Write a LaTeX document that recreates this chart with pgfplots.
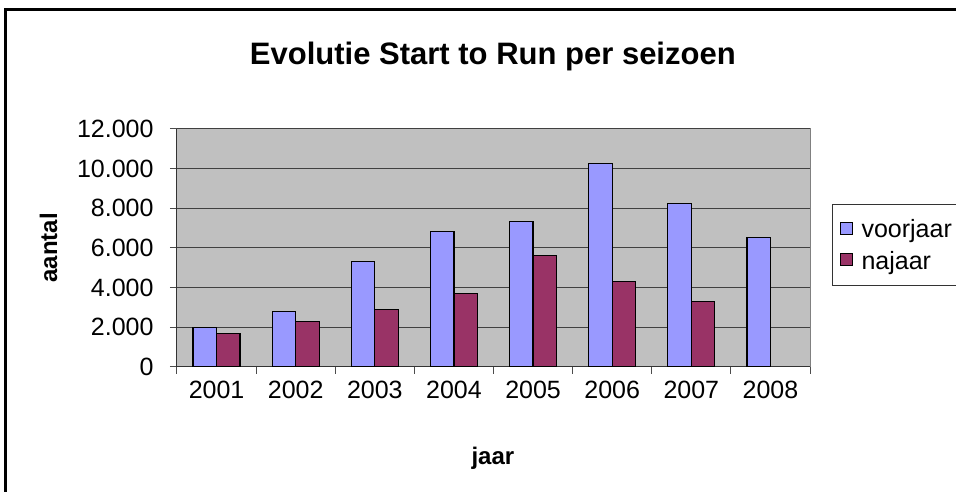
\documentclass[border=0pt]{standalone}
\usepackage{fontspec}
\setmainfont{Liberation Sans}
\usepackage{pgfplots}
\pgfplotsset{compat=1.18}

\definecolor{voorjaar}{HTML}{9999FF}
\definecolor{najaar}{HTML}{993366}
\definecolor{plotgray}{HTML}{C0C0C0}
\definecolor{framegray}{HTML}{808080}

\begin{document}
\begin{tikzpicture}[x=1pt,y=1pt]
\useasboundingbox (0,0) rectangle (956,492);
% chart frame (only left and top edges are visible)
\draw[line width=3pt] (5,0) -- (5,482) -- (960,482);

\begin{axis}[
    at={(177pt,125pt)}, anchor=south west,
    scale only axis,
    width=633pt, height=238pt,
    ybar=0pt,
    bar width=23.5pt,
    xmin=-0.5, xmax=7.5,
    % ticks sit between the categories, labels are moved to the centres
    xtick={-0.5,0.5,...,7.5},
    xticklabels={2001,2002,2003,2004,2005,2006,2007,2008,},
    xticklabel style={xshift=39.56pt, yshift=-4pt},
    major tick length=7pt,
    ymin=0, ymax=12000,
    ytick={0,2000,...,12000},
    scaled y ticks=false,
    /pgf/number format/.cd, 1000 sep={.}, assume math mode=true,
    /pgfplots/.cd,
    tick align=outside,
    axis x line*=bottom,
    axis y line*=left,
    axis line style={black!80, line width=1pt},
    tick style={black!70, line width=1pt},
    axis background/.style={fill=plotgray, draw=framegray, line width=1pt},
    ymajorgrids=true,
    xmajorgrids=false,
    grid style={black!75, line width=1pt},
    tick label style={font=\fontsize{25}{29}\selectfont},
    yticklabel style={xshift=-13pt},
    title={\textbf{Evolutie Start to Run per seizoen}},
    title style={at={(0.499,1.281)}, anchor=center, font=\fontsize{31}{35}\selectfont},
    xlabel={\textbf{jaar}},
    xlabel style={at={(0.499,-0.385)}, anchor=center, font=\fontsize{24}{28}\selectfont},
    ylabel={\textbf{aantal}},
    ylabel style={at={(-0.203,0.5)}, anchor=center, rotate=0, font=\fontsize{24}{28}\selectfont},
    legend style={at={(1.035,0.685)}, anchor=north west, draw=black!80, line width=0.8pt,
        font=\fontsize{25}{29}\selectfont, inner xsep=7pt, inner ysep=13pt,
        row sep=8pt, legend cell align=left,
        /tikz/every odd column/.append style={column sep=7pt}},
    legend image code/.code={\draw[#1, draw=black, line width=1pt] (0pt,-5pt) rectangle (12pt,7pt);},
]
\addplot[fill=voorjaar, draw=black, line width=1.3pt] coordinates {
    (0,2000) (1,2790) (2,5320) (3,6820) (4,7320) (5,10270) (6,8230) (7,6530)
};
\addplot[fill=najaar, draw=black, line width=1.3pt] coordinates {
    (0,1680) (1,2290) (2,2890) (3,3700) (4,5620) (5,4310) (6,3300)
};
\legend{voorjaar, najaar}
\end{axis}
\end{tikzpicture}
\end{document}
